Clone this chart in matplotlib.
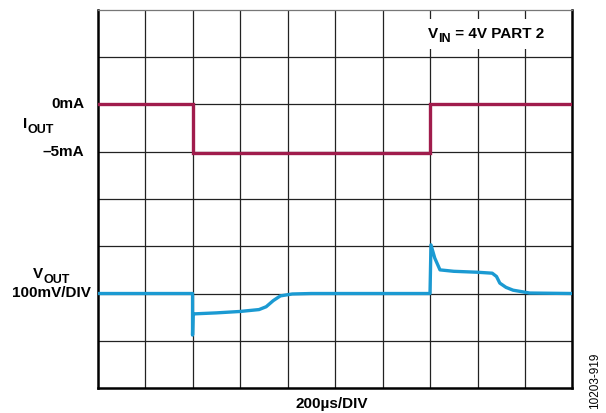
import matplotlib
matplotlib.use('Agg')
import matplotlib.pyplot as plt
from matplotlib.transforms import IdentityTransform
import numpy as np

plt.rcParams['font.family'] = ['Liberation Sans', 'DejaVu Sans']
plt.rcParams['font.weight'] = 'bold'

# time in divisions (200us/div), level in divisions from bottom
iout_t = [0.0, 2.0, 2.0, 7.0, 7.0, 10.0]
iout_y = [6.0, 6.0, 4.98, 4.98, 6.0, 6.0]

vout_t = [0.0, 2.0, 2.0, 2.01, 2.05, 2.5, 3.0, 3.4, 3.55, 3.7, 3.85, 4.1, 4.5,
          7.0, 7.02, 7.1, 7.21, 7.5, 8.0, 8.31, 8.4, 8.47, 8.6, 8.75, 9.1, 10.0]
vout_y = [2.0, 2.0, 1.12, 1.55, 1.57, 1.59, 1.62, 1.66, 1.72, 1.85, 1.95, 1.99, 2.0,
          2.0, 3.03, 2.75, 2.50, 2.47, 2.45, 2.43, 2.36, 2.22, 2.13, 2.07, 2.01, 2.0]

red = '#a01c4c'
cyan = '#1b9ad2'
H = 413

fig = plt.figure(figsize=(6.06, 4.13), dpi=100)
ax = fig.add_axes([0.161, 0.0605, 0.7837, 0.9153])
ax.set_xlim(0, 10)
ax.set_ylim(0, 8)

for gx in range(1, 10):
    ax.axvline(gx, color='#222222', lw=0.9, zorder=1)
for gy in range(1, 8):
    ax.axhline(gy, color='#222222', lw=0.9, zorder=1)

ax.plot(iout_t, iout_y, color=red, lw=2.4, zorder=3, solid_joinstyle='miter')
ax.plot(vout_t, vout_y, color=cyan, lw=2.4, zorder=3)

for side in ['left', 'right', 'bottom']:
    ax.spines[side].set_linewidth(1.8)
    ax.spines[side].set_color('black')
ax.spines['top'].set_linewidth(0.9)
ax.spines['top'].set_color('#777777')
ax.set_xticks([])
ax.set_yticks([])

renderer = fig.canvas.get_renderer()


def sub_label(x, y, parts, zorder=5):
    # parts: (text, fontsize, drop in px); x = left px, y = baseline px from top
    for s, size, drop in parts:
        t = fig.text(x, H - y - drop, s, fontsize=size, fontweight='bold',
                     ha='left', va='baseline', transform=IdentityTransform(), zorder=zorder)
        x = t.get_window_extent(renderer).x1


# white patch behind the VIN label
ax.add_patch(plt.Rectangle((6.9, 7.18), 3.0, 0.62, fc='white', ec='none', zorder=2))
sub_label(428, 38, [('V', 11, 0), ('IN', 9, 4), (' = 4V PART 2', 11, 0)])

fs = 11
fig.text(85 / 606, 1 - 104 / H, '0mA', ha='right', va='center', fontsize=fs, fontweight='bold')
sub_label(23, 128, [('I', fs, 0), ('OUT', 9, 5)])
fig.text(84 / 606, 1 - 152 / H, '–5mA', ha='right', va='center', fontsize=fs, fontweight='bold')
sub_label(33, 278, [('V', fs, 0), ('OUT', 9, 5)])
fig.text(91 / 606, 1 - 293 / H, '100mV/DIV', ha='right', va='center', fontsize=fs, fontweight='bold')
fig.text(332 / 606, 1 - 404 / H, '200µs/DIV', ha='center', va='center', fontsize=fs, fontweight='bold')
fig.text(595 / 606, 1 - 381 / H, '10203-919', ha='center', va='center', rotation=90,
         fontsize=8.5, fontweight='normal')

fig.savefig('out.png', dpi=100)
